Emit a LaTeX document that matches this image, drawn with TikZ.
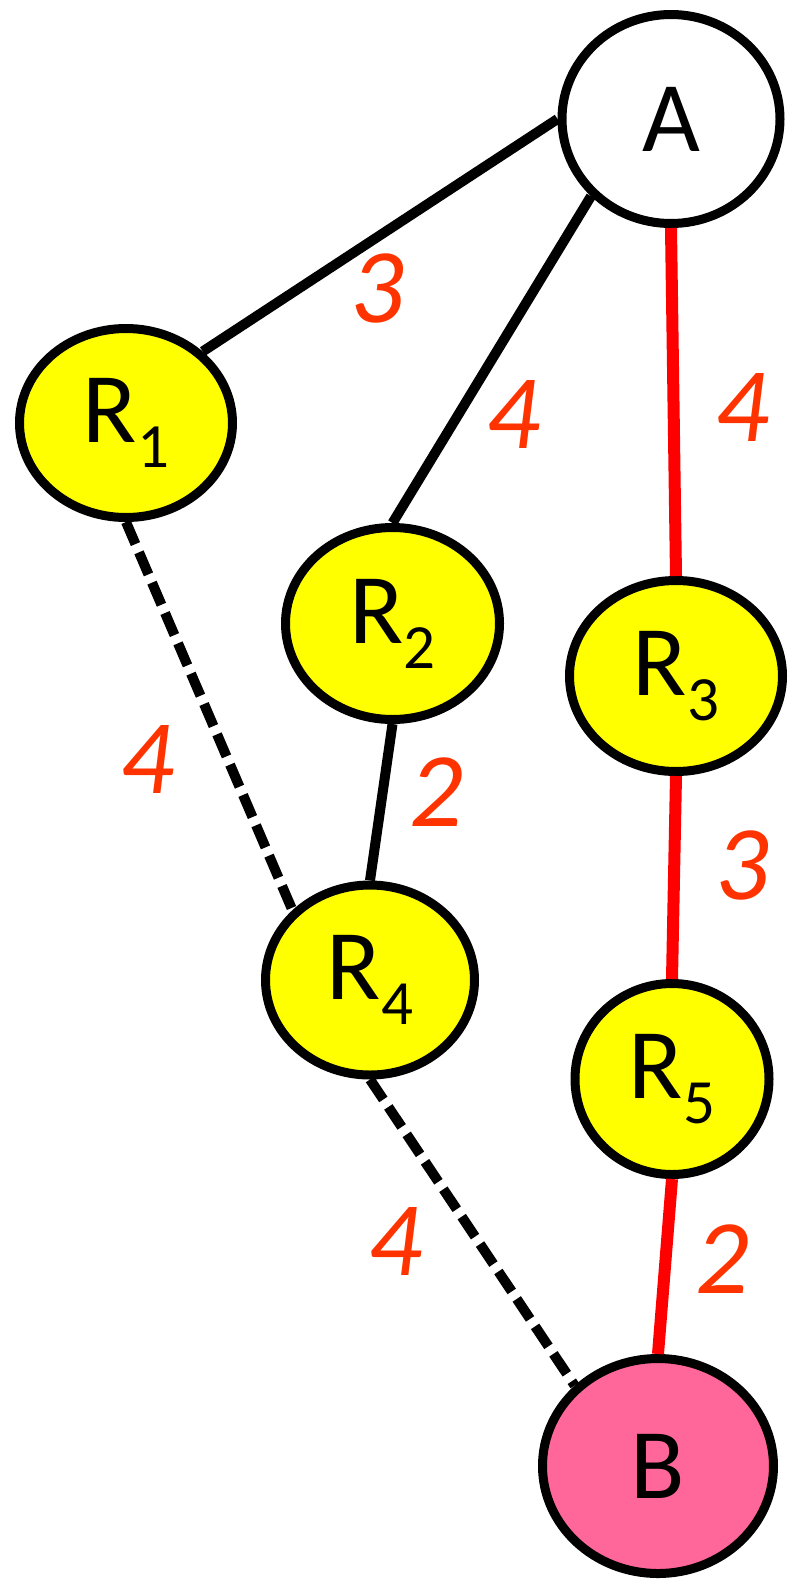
\documentclass[tikz,border=0pt]{standalone}
\usepackage{fontspec}
\setmainfont{Carlito}
\usetikzlibrary{shapes.geometric}
\definecolor{lab}{HTML}{FF3300}
\definecolor{pinkB}{HTML}{FF6699}
\definecolor{yel}{HTML}{FFFF00}
\definecolor{redline}{HTML}{FF0000}
\newcommand\mysub[1]{\raisebox{-25pt}{\fontsize{63}{63}\selectfont #1}}
\begin{document}
\begin{tikzpicture}[x=1pt,y=-1pt,
  vtx/.style={ellipse,draw=black,line width=9pt,inner sep=0pt,font=\fontsize{100}{110}\selectfont},
  rnode/.style={vtx,fill=yel},
  wt/.style={text=lab,font=\fontsize{106}{110}\selectfont\itshape,inner sep=0pt},
  blk/.style={draw=black,line width=10pt},
  dsh/.style={draw=black,line width=10pt,dash pattern=on 24pt off 9pt},
  rd/.style={draw=redline,line width=12pt}]
\useasboundingbox (0,0) rectangle (791,1580);
\node[vtx,fill=white,minimum width=218pt,minimum height=209pt] (A) at (671,119) {A};
\node[rnode,minimum width=213pt,minimum height=189pt] (R1) at (126,423) {R\mysub{1}};
\node[rnode,minimum width=214pt,minimum height=192pt] (R2) at (392.5,623.5) {R\mysub{2}};
\node[rnode,minimum width=213pt,minimum height=191pt] (R3) at (676,676) {R\mysub{3}};
\node[rnode,minimum width=209pt,minimum height=190pt] (R4) at (370,980) {R\mysub{4}};
\node[rnode,minimum width=194pt,minimum height=191pt] (R5) at (672,1079) {R\mysub{5}};
\node[vtx,fill=pinkB,minimum width=231pt,minimum height=215pt] (B) at (658,1466) {B};
\draw[blk] (A.180) -- (R1.43);
\draw[blk] (A.224) -- (R2.north);
\draw[blk] (R2.south) -- (R4.north);
\draw[dsh] (R1.south) -- (R4.138);
\draw[dsh] (R4.south) -- (B.136);
\draw[rd] (A.south) -- (R3.north);
\draw[rd] (R3.south) -- (R5.north);
\draw[rd] (R5.south) -- (B.north);
\node[wt] (w1) at (377,288) {3};
\node[wt] (w2) at (513,414) {4};
\node[wt] (w3) at (742,407) {4};
\node[wt] (w4) at (147,759) {4};
\node[wt] (w5) at (436,792) {2};
\node[wt] (w6) at (742,865) {3};
\node[wt] (w7) at (395,1241) {4};
\node[wt] (w8) at (722,1259) {2};
\end{tikzpicture}
\end{document}
